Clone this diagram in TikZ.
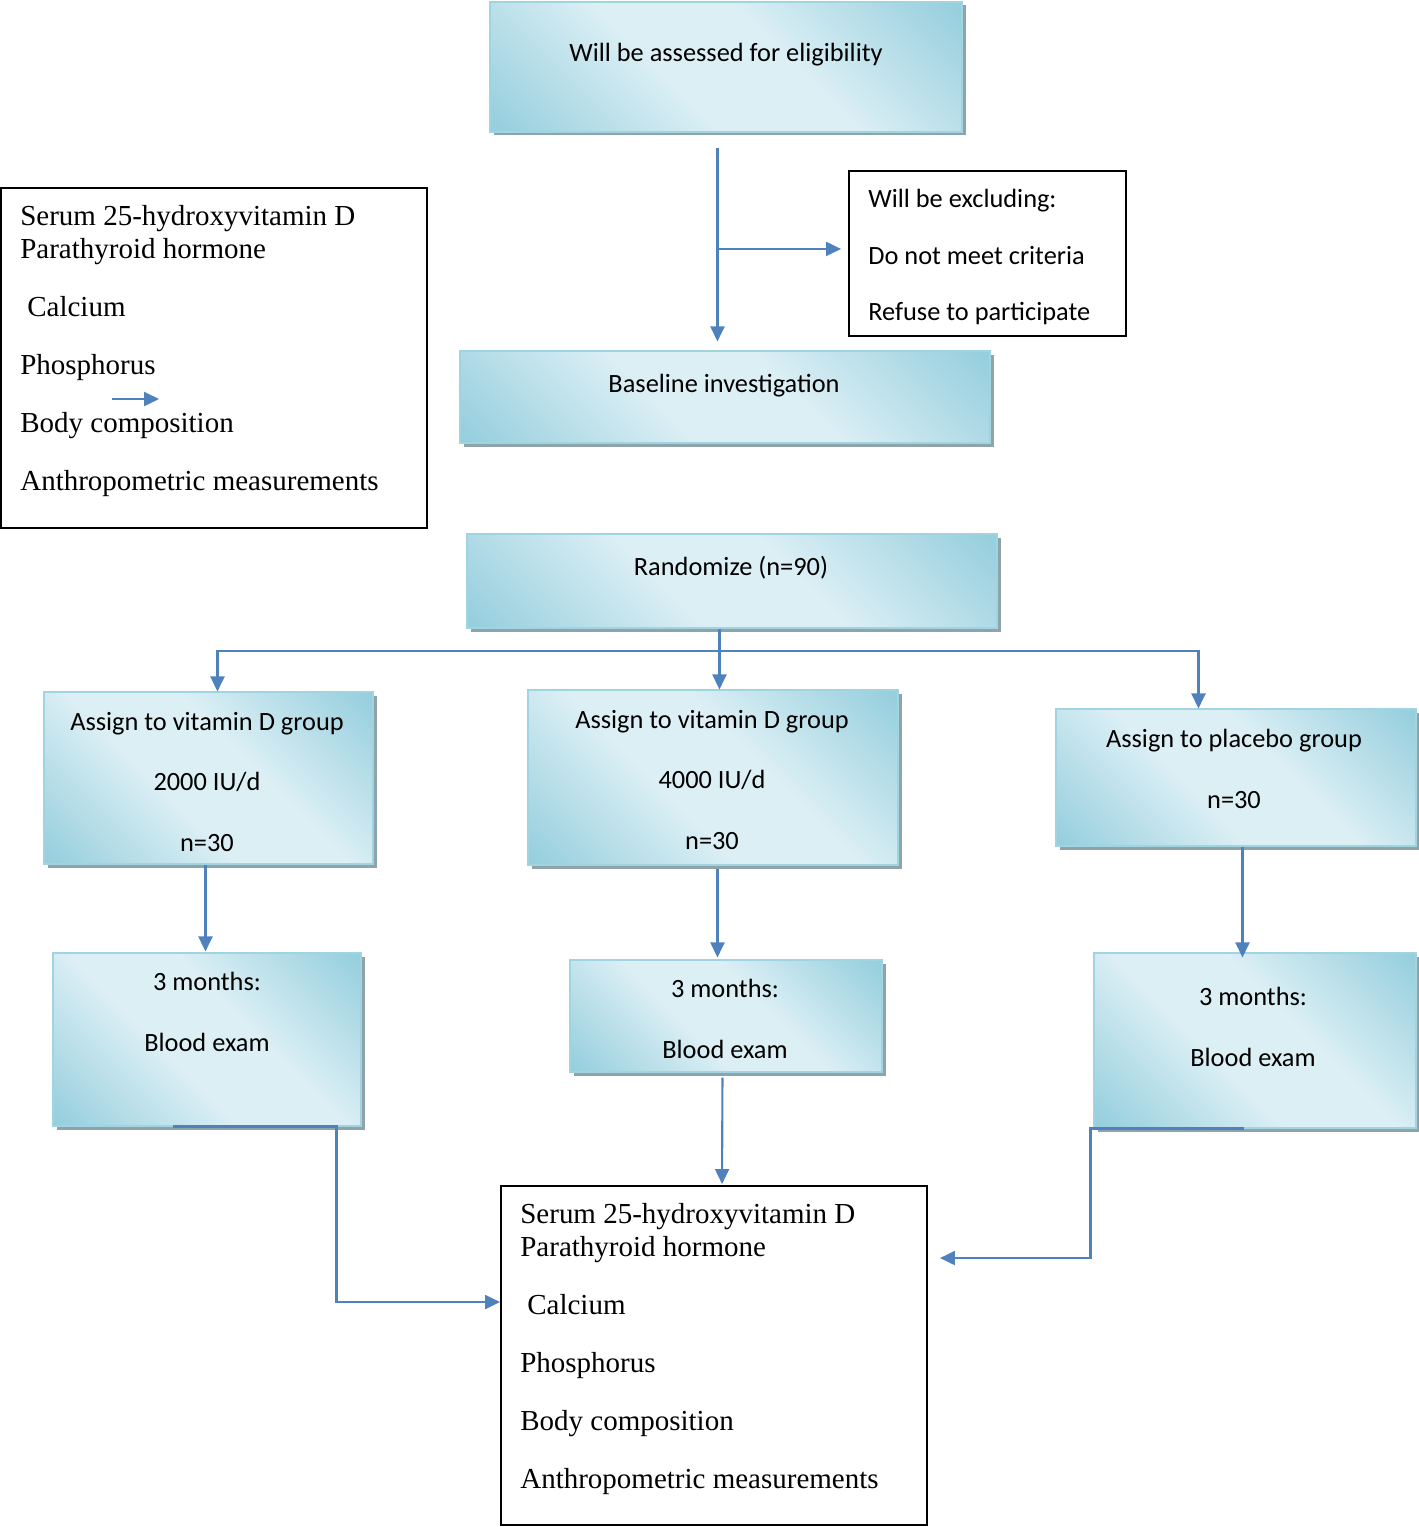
\documentclass[tikz,border=0pt]{standalone}
\usepackage{fontspec}
\newfontfamily\calib{Carlito}
\newfontfamily\tnr{Liberation Serif}
\usetikzlibrary{arrows.meta,calc,shadows}

\definecolor{aquadk}{RGB}{146,205,220}
\definecolor{aqualt}{RGB}{220,239,245}
\definecolor{aquaedge}{RGB}{160,212,225}
\definecolor{shadowgray}{RGB}{143,163,170}
\definecolor{linkblue}{RGB}{79,129,189}

\pgfdeclarehorizontalshading{aquafill}{100bp}{color(0bp)=(aquadk); color(14bp)=(aquadk); color(42bp)=(aqualt); color(58bp)=(aqualt); color(86bp)=(aquadk); color(100bp)=(aquadk)}

\newcommand{\pu}{0.02cm}

\begin{document}
\begin{tikzpicture}[x=0.02cm, y=-0.02cm,
  gbox/.style={draw=aquaedge, line width=0.6pt, shading=aquafill, shading angle=45,
    drop shadow={shadow xshift=0.07cm, shadow yshift=-0.07cm, fill=shadowgray, opacity=1}, inner sep=0},
  wbox/.style={draw=black, line width=1.1pt, fill=white, inner sep=0},
  stxt/.style={font=\calib\fontsize{15}{34.6}\selectfont, align=center, inner sep=0},
  rtxt/.style={font=\tnr\fontsize{16.5}{18.7}\selectfont, align=left, inner sep=0, anchor=west},
  conn/.style={draw=linkblue, line width=1.2pt, -{Triangle[length=0.3cm, width=0.28cm]}}]

\useasboundingbox (0,0) rectangle (1418,1527);

% shaded boxes
\path (726,67) node[gbox, minimum width=472*\pu, minimum height=130*\pu] (assess){};
\path (725,397) node[gbox, minimum width=530*\pu, minimum height=92*\pu] (base){};
\path (732,581) node[gbox, minimum width=530*\pu, minimum height=94*\pu] (rand){};
\path (208.5,778) node[gbox, minimum width=329*\pu, minimum height=172*\pu] (g1){};
\path (713,777.5) node[gbox, minimum width=370*\pu, minimum height=175*\pu] (g2){};
\path (1236,777.5) node[gbox, minimum width=360*\pu, minimum height=137*\pu] (g3){};
\path (207,1039.5) node[gbox, minimum width=308*\pu, minimum height=173*\pu] (m1){};
\path (726,1016) node[gbox, minimum width=312*\pu, minimum height=112*\pu] (m2){};
\path (1255,1040.5) node[gbox, minimum width=322*\pu, minimum height=175*\pu] (m3){};

\path (726,55) node[stxt] (assess_t){Will be assessed for eligibility};
\path (724,386) node[stxt] (base_t){Baseline investigation};
\path (731,568) node[stxt] (rand_t){Randomize (n=90)};
\path (207,782) node[stxt] (g1_t){Assign to vitamin D group\\2000 IU/d\\n=30};
\path (712,780) node[stxt] (g2_t){Assign to vitamin D group\\4000 IU/d\\n=30};
\path (1234,769) node[stxt] (g3_t){Assign to placebo group\\n=30};
\path (207,1012) node[stxt] (m1_t){3 months:\\Blood exam};
\path (725,1019) node[stxt] (m2_t){3 months:\\Blood exam};
\path (1253,1027) node[stxt] (m3_t){3 months:\\Blood exam};

% plain boxes
\path (987.5,253.5) node[wbox, minimum width=277*\pu, minimum height=165*\pu] (excl){};
\path (214,358) node[wbox, minimum width=426*\pu, minimum height=340*\pu] (outa){};
\path (714,1355.5) node[wbox, minimum width=426*\pu, minimum height=339*\pu] (outb){};

\path (868,257) node[stxt, align=left, anchor=west, font=\calib\fontsize{15}{32.3}\selectfont] (excl_t)
  {Will be excluding:\\Do not meet criteria\\Refuse to participate};
\path (20,351) node[rtxt] (outa_t){Serum 25-hydroxyvitamin D\\Parathyroid hormone\\[14.2pt]
  \hspace*{0.14cm}Calcium\\[14.2pt]Phosphorus\\[14.2pt]Body composition\\[14.2pt]Anthropometric measurements};
\path (520,1349) node[rtxt] (outb_t){Serum 25-hydroxyvitamin D\\Parathyroid hormone\\[14.2pt]
  \hspace*{0.14cm}Calcium\\[14.2pt]Phosphorus\\[14.2pt]Body composition\\[14.2pt]Anthropometric measurements};

% connectors
\draw[conn] ($(assess.south west)+(228,15)$) -- coordinate[pos=0.523] (exsplit) ($(base.north west)+(258,-9)$);
\draw[conn] (exsplit) -- ([xshift=-0.14cm]exsplit -| excl.west);
\draw[conn] ($(outa.north west)+(112,212)$) -- ++(47,0);

\draw[conn] ($(rand.south west)+(253,0)$) -- coordinate[pos=0.37] (split) ($(g2.north west)+(192,0)$);
\draw[conn] (split) -| ($(g1.north west)+(174,0)$);
\draw[conn] (split) -| ($(g3.north west)+(143,0)$);

\draw[conn] ($(g1.south west)+(162,0)$) -- ($(m1.north west)+(153,-1)$);
\draw[conn] ($(g2.south west)+(190,3)$) -- ($(m2.north west)+(148,-2)$);
\draw[conn] ($(g3.south west)+(187,0)$) -- ($(m3.north west)+(149,5)$);

\draw[conn] ($(m1.south west)+(121,0)$) -- ++(163,0) |- ($(outb.north west)+(0,117)$);
\draw[conn] ($(m2.south west)+(153,5)$) -- ($(outb.north west)+(222,-1)$);
\draw[conn] ($(m3.south west)+(151,0)$) -- ++(-154,0) |- ($(outb.north east)+(12,73)$);
\end{tikzpicture}
\end{document}
